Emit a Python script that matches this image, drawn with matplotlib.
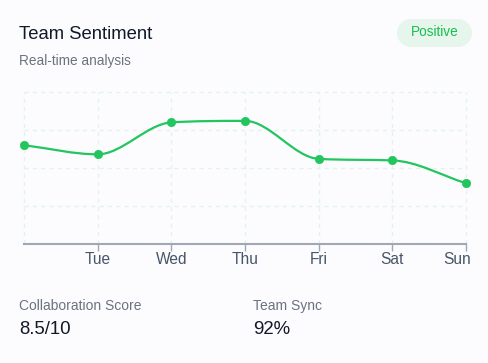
import numpy as np
import matplotlib
matplotlib.use("Agg")
import matplotlib.pyplot as plt
from matplotlib.path import Path
from matplotlib.patches import PathPatch, Rectangle, Ellipse
from matplotlib.transforms import ScaledTranslation

plt.rcParams['font.family'] = ['Liberation Sans', 'DejaVu Sans']

# ---- data ----
days = ["Mon", "Tue", "Wed", "Thu", "Fri", "Sat", "Sun"]
sentiment = [65, 59, 80, 81, 56, 55, 40]
y_ticks = [0, 25, 50, 75, 100]
title = "Team Sentiment"
subtitle = "Real-time analysis"
badge = "Positive"
stats_labels = ["Collaboration Score", "Team Sync"]
stats_values = ["8.5/10", "92%"]

W, H, DPI = 488, 363, 100
BG = "#fcfcff"
GREEN = "#22c55e"

fig = plt.figure(figsize=(W / DPI, H / DPI), dpi=DPI, facecolor=BG)

def fx(px):
    return px / W

def fy(py):
    return 1 - py / H

ax_l, ax_r, ax_t, ax_b = 24, 466, 92, 244
ax = fig.add_axes([fx(ax_l), fy(ax_b), fx(ax_r) - fx(ax_l), fy(ax_t) - fy(ax_b)])
ax.set_facecolor(BG)
n = len(days)
x = np.arange(n, dtype=float)
y = np.array(sentiment, dtype=float)
ax.set_xlim(0, n - 1)
ax.set_ylim(y_ticks[0], y_ticks[-1])

# grid
grid_col = "#e3f3e8"
for xi in x:
    ax.axvline(xi, color=grid_col, lw=1, ls=(0, (3, 3)), zorder=0, clip_on=False)
for yt in y_ticks[1:]:
    ax.axhline(yt, color=grid_col, lw=1, ls=(0, (3, 3)), zorder=0, clip_on=False)

# monotone cubic curve (Chart.js 'monotone' style control points)
dk = np.diff(y) / np.diff(x)
mk = np.zeros(n)
mk[0] = dk[0]
mk[-1] = dk[-1]
for i in range(1, n - 1):
    if dk[i - 1] == 0 or dk[i] == 0 or np.sign(dk[i - 1]) != np.sign(dk[i]):
        mk[i] = 0
    else:
        mk[i] = (dk[i - 1] + dk[i]) / 2
for i in range(n - 1):
    if dk[i] == 0:
        mk[i] = mk[i + 1] = 0
        continue
    a = mk[i] / dk[i]
    b = mk[i + 1] / dk[i]
    sq = a * a + b * b
    if sq > 9:
        tau = 3 / np.sqrt(sq)
        mk[i] = a * tau * dk[i]
        mk[i + 1] = b * tau * dk[i]

verts = [(x[0], y[0])]
codes = [Path.MOVETO]
for i in range(n - 1):
    d = (x[i + 1] - x[i]) / 3
    verts += [(x[i] + d, y[i] + d * mk[i]),
              (x[i + 1] - d, y[i + 1] - d * mk[i + 1]),
              (x[i + 1], y[i + 1])]
    codes += [Path.CURVE4] * 3
ax.add_patch(PathPatch(Path(verts, codes), fill=False, edgecolor=GREEN, lw=1.6,
                       zorder=3, clip_on=False, capstyle='round', joinstyle='round'))
ax.plot(x, y, ls='none', marker='o', ms=6, mew=0.5, color=GREEN, mec=GREEN,
        zorder=4, clip_on=False)

# axes styling
for s in ["top", "right", "left"]:
    ax.spines[s].set_visible(False)
ax.spines["bottom"].set_color("#a0a8b8")
ax.spines["bottom"].set_linewidth(1.5)
ax.set_yticks([])
ax.set_xticks(x[1:])
ax.set_xticklabels(days[1:])
ax.tick_params(axis='x', length=5, width=1.0, color="#a0a8b8", pad=1,
               labelsize=11.2, labelcolor="#475569")
last = ax.get_xticklabels()[-1]
last.set_horizontalalignment('right')
last.set_transform(last.get_transform() + ScaledTranslation(4.5 / DPI, 0, fig.dpi_scale_trans))

# header text
fig.text(fx(19), fy(39), title, fontsize=13.3, color="#111827", va='baseline', ha='left')
fig.text(fx(19), fy(65), subtitle, fontsize=9.8, color="#6b7280", va='baseline', ha='left')

# badge (pill)
bx0, bx1, by0, by1 = 397, 472, 19, 47
rad = (by1 - by0) / 2
badge_fill = "#e6f6ec"
fig.patches.append(Rectangle((fx(bx0 + rad), fy(by1)), fx(bx1 - bx0 - 2 * rad), fy(by0) - fy(by1),
                             transform=fig.transFigure, facecolor=badge_fill, edgecolor='none'))
for cxp in (bx0 + rad, bx1 - rad):
    fig.patches.append(Ellipse((fx(cxp), fy((by0 + by1) / 2)), 2 * rad / W, 2 * rad / H,
                               transform=fig.transFigure, facecolor=badge_fill, edgecolor='none'))
fig.text(fx((bx0 + bx1) / 2), fy(36.5), badge, fontsize=9.8, color="#16bf4f",
         va='baseline', ha='center')

# stats
for lbl, val, xp in zip(stats_labels, stats_values, (19, 253)):
    fig.text(fx(xp), fy(310), lbl, fontsize=10, color="#6b7280", va='baseline', ha='left')
    fig.text(fx(xp), fy(334), val, fontsize=13.4, color="#111827", va='baseline', ha='left')

fig.savefig("out.png", dpi=DPI, facecolor=BG)
